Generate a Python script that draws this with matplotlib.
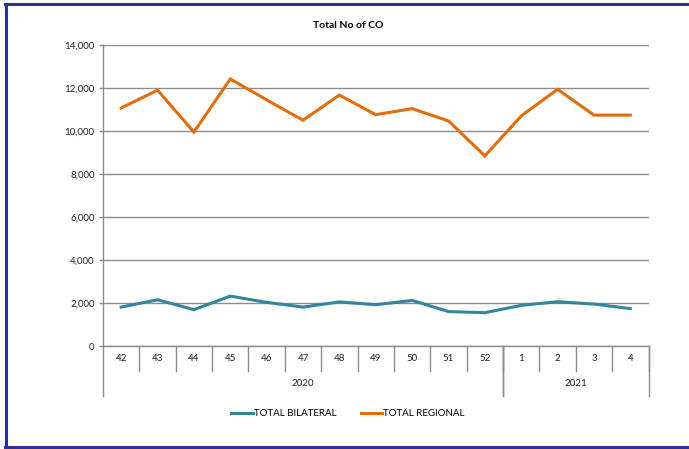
import matplotlib
matplotlib.use("Agg")
import matplotlib.pyplot as plt
import matplotlib.transforms as mtransforms
from matplotlib.lines import Line2D

# week numbers and the year each block belongs to
weeks = ["42", "43", "44", "45", "46", "47", "48", "49", "50", "51", "52", "1", "2", "3", "4"]
years = ["2020", "2021"]
year_sizes = [11, 4]

total_bilateral = [1810, 2150, 1690, 2320, 2030, 1810, 2050, 1920, 2120, 1600, 1550, 1890, 2060, 1950, 1740]
total_regional = [11070, 11900, 9950, 12420, 11450, 10500, 11670, 10760, 11040, 10470, 8840, 10700, 11940, 10740, 10740]

blue = "#31859C"
orange = "#E46C0A"
grid_col = "#8C8C8C"
frame_col = "#2E3192"

plt.rcParams['font.family'] = ['Lato', 'DejaVu Sans']

W, H = 689, 449
fig = plt.figure(figsize=(W / 100, H / 100), dpi=100)
ax = fig.add_axes([103 / W, 1 - 346 / H, (648.5 - 103) / W, (346 - 45) / H])

x = list(range(len(weeks)))
ax.plot(x, total_bilateral, color=blue, lw=2.2, solid_joinstyle="miter", label="TOTAL BILATERAL")
ax.plot(x, total_regional, color=orange, lw=2.2, solid_joinstyle="miter", label="TOTAL REGIONAL")

ax.set_xlim(-0.5, len(weeks) - 0.5)
ax.set_ylim(0, 14000)
ax.set_yticks(range(0, 14001, 2000))
ax.set_yticklabels([f"{v:,}" for v in range(0, 14001, 2000)], fontsize=7, color="#222222")
ax.yaxis.grid(True, color=grid_col, lw=1)
ax.set_axisbelow(True)
ax.tick_params(axis="y", length=3, width=1, color=grid_col, pad=3)
ax.set_xticks([])
for s in ["top", "right", "bottom"]:
    ax.spines[s].set_visible(False)
ax.spines["left"].set_color(grid_col)
ax.spines["left"].set_linewidth(1)

# multi-level category axis below the plot
ax_h = 346 - 45
row1 = -25 / ax_h
row2 = -50 / ax_h
trans = mtransforms.blended_transform_factory(ax.transData, ax.transAxes)
ax.plot([-0.5, len(weeks) - 0.5], [0, 0], transform=trans, color=grid_col, lw=1, clip_on=False)
for i, w in enumerate(weeks):
    ax.text(i, row1 / 2, w, transform=trans, ha="center", va="center", fontsize=7, color="#222222")
    ax.plot([i + 0.5, i + 0.5], [0, row1], transform=trans, color=grid_col, lw=1, clip_on=False)

start = -0.5
for yr, n in zip(years, year_sizes):
    end = start + n
    ax.text((start + end) / 2, (row1 + row2) / 2, yr, transform=trans, ha="center", va="center",
            fontsize=7, color="#222222")
    ax.plot([start, start], [0, row2], transform=trans, color=grid_col, lw=1, clip_on=False)
    ax.plot([end, end], [0, row2], transform=trans, color=grid_col, lw=1, clip_on=False)
    start = end

fig.text(0.505, 1 - 25 / H, "Total No of CO", ha="center", va="center", fontsize=7.5, fontweight="bold")

handles = [Line2D([], [], color=blue, lw=2.2), Line2D([], [], color=orange, lw=2.2)]
fig.legend(handles, ["TOTAL BILATERAL", "TOTAL REGIONAL"], loc="center", bbox_to_anchor=(0.505, 1 - 414 / H),
           ncol=2, frameon=False, fontsize=7, handlelength=2.2, handletextpad=0.1, columnspacing=2.5)

# dark blue frame around the chart (right side cut off)
fig.add_artist(Line2D([6 / W, 6 / W], [1 - 4 / H, 1 - 447 / H], transform=fig.transFigure, color=frame_col, lw=2.2))
fig.add_artist(Line2D([5 / W, 1], [1 - 4 / H, 1 - 4 / H], transform=fig.transFigure, color=frame_col, lw=2.2))
fig.add_artist(Line2D([5 / W, 1], [1 - 447 / H, 1 - 447 / H], transform=fig.transFigure, color=frame_col, lw=2.2))

fig.savefig("out.png", dpi=100, facecolor="white")
